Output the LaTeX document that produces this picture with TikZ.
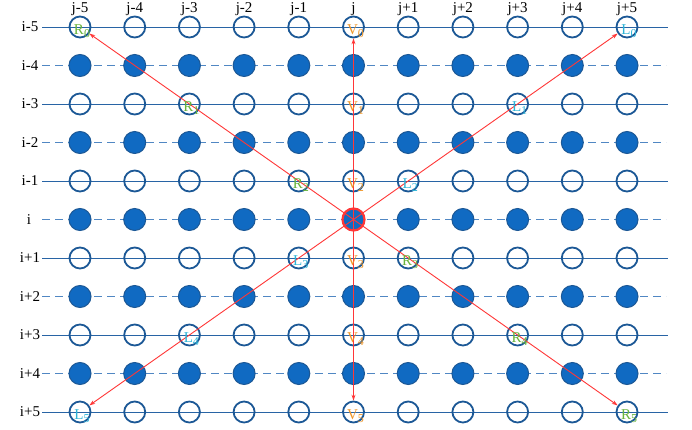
\documentclass[tikz,border=0pt]{standalone}
\usepackage{fontspec}
\setmainfont{Liberation Serif}
\usetikzlibrary{arrows.meta}
\definecolor{dotblue}{RGB}{16,106,194}
\definecolor{dotedge}{RGB}{28,88,150}
\definecolor{gridblue}{RGB}{40,100,165}
\definecolor{dashblue}{RGB}{80,135,195}
\definecolor{arrred}{RGB}{255,55,55}
\definecolor{rlab}{RGB}{105,180,60}
\definecolor{vlab}{RGB}{240,150,40}
\definecolor{llab}{RGB}{45,180,215}
\newcommand{\lowidx}[1]{\raisebox{-3pt}{\fontsize{12}{12}\selectfont #1}}

\begin{document}
\begin{tikzpicture}[x=1pt,y=-1pt,>={Stealth[length=6pt,width=4pt]},
  every node/.style={font=\fontsize{15}{15}\selectfont},
  opendot/.style={circle,draw=dotedge,line width=1.8pt,minimum size=21pt,inner sep=0pt},
  filldot/.style={circle,draw=dotedge,line width=1pt,fill=dotblue,minimum size=22pt,inner sep=0pt},
  gridline/.style={gridblue,line width=0.9pt},
  gridbroken/.style={dashblue,line width=1pt,dash pattern=on 8pt off 5pt},
  lab/.style={font=\fontsize{15}{15}\selectfont,inner sep=0pt}]
\useasboundingbox (0,0) rectangle (692,430);
\fill[white] (0,0) rectangle (692,430);
% column heads
\foreach \c in {0,...,10} {
  \pgfmathsetmacro\xx{80+54.7*\c}
  \pgfmathtruncatemacro\d{\c-5}
  \ifnum\d<0 \node (col\c) at (\xx,9) {j\d};
  \else\ifnum\d=0 \node (col\c) at (\xx,9) {j};
  \else \node (col\c) at (\xx,9) {j+\d}; \fi\fi
}
% rows: lines, labels and dots
\foreach \r in {0,...,10} {
  \pgfmathsetmacro\yy{27+38.5*\r}
  \pgfmathtruncatemacro\d{\r-5}
  \ifodd\r \draw[gridbroken] (42,\yy) -- (666,\yy);
  \else \draw[gridline] (42,\yy) -- (668,\yy); \fi
  \ifnum\d<0 \node (row\r) at (30,\yy) {i\d};
  \else\ifnum\d=0 \node (row\r) at (29,\yy) {i};
  \else \node (row\r) at (30,\yy) {i+\d}; \fi\fi
  \foreach \c in {0,...,10} {
    \pgfmathsetmacro\xx{80+54.7*\c}
    \ifodd\r \node[filldot] (n\r-\c) at (\xx,\yy) {};
    \else \node[opendot] (n\r-\c) at (\xx,\yy) {}; \fi
  }
}
\node[filldot,draw=arrred,line width=2.2pt] (hub) at (n5-5) {};
% arrows out of the centre
\draw[->,arrred,line width=0.9pt] (hub.center) -- (n0-0);
\draw[->,arrred,line width=0.9pt] (hub.center) -- (n0-5);
\draw[->,arrred,line width=0.9pt] (hub.center) -- (n0-10);
\draw[->,arrred,line width=0.9pt] (hub.center) -- (n10-0);
\draw[->,arrred,line width=0.9pt] (hub.center) -- (n10-5);
\draw[->,arrred,line width=0.9pt] (hub.center) -- (n10-10);
% labels
\foreach \k/\r/\c in {0/0/0,1/2/2,2/4/4,3/6/6,4/8/8,5/10/10}
  \node[lab,rlab] (r\k) at ([shift={(2,4)}]n\r-\c) {R\lowidx{\k}};
\foreach \k/\r/\c in {0/0/5,1/2/5,2/4/5,3/6/5,4/8/5,5/10/5}
  \node[lab,vlab] (v\k) at ([shift={(2,4)}]n\r-\c) {V\lowidx{\k}};
\foreach \k/\r/\c in {0/0/10,1/2/8,2/4/6,3/6/4,4/8/2,5/10/0}
  \node[lab,llab] (l\k) at ([shift={(2,4)}]n\r-\c) {L\lowidx{\k}};
\end{tikzpicture}
\end{document}
